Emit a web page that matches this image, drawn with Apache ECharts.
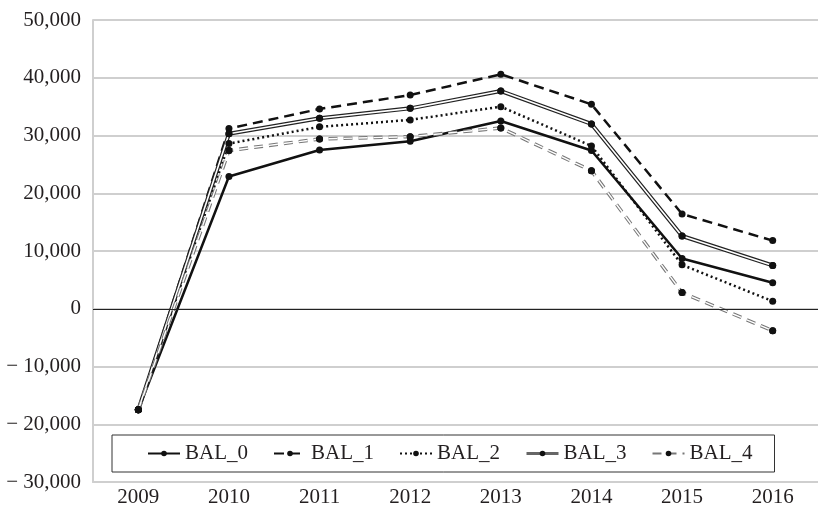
<!DOCTYPE html>
<html>
<head>
<meta charset="utf-8">
<script src="https://cdn.jsdelivr.net/npm/echarts@6/dist/echarts.min.js"></script>
<style>
  html, body { margin: 0; padding: 0; background: #fff; }
  #bal_chart { width: 818px; height: 508px; }
</style>
</head>
<body>
<div id="bal_chart"></div>
<script>
// data
const years = ["2009", "2010", "2011", "2012", "2013", "2014", "2015", "2016"];
const bal0 = [-17500, 22900, 27500, 29000, 32500, 27400, 8700, 4500];
const bal1 = [-17500, 31200, 34600, 37000, 40600, 35400, 16400, 11800];
const bal2 = [-17500, 28600, 31500, 32700, 35000, 28200, 7600, 1300];
const bal3 = [-17500, 30300, 33000, 34700, 37700, 32000, 12600, 7500];
const bal4 = [-17500, 27400, 29400, 29800, 31300, 23900, 2800, -3800];
const yTicks = { min: -30000, max: 50000, step: 10000 };

const font = "'Liberation Serif', 'Times New Roman', serif";
const textColor = "#231f20";

const chart = echarts.init(document.getElementById("bal_chart"));

function fmt(v) {
  const s = Math.abs(v).toLocaleString("en-US");
  return v < 0 ? "\u2212 " + s : s;
}

const dot = { symbol: "circle", symbolSize: 7, itemStyle: { color: "#111" } };

const option = {
  animation: false,
  backgroundColor: "#fff",
  textStyle: { fontFamily: font },
  grid: { left: 93, right: 0, top: 20, bottom: 26 },
  legend: {
    data: [
      "BAL_0", "BAL_1", "BAL_2",
      { name: "BAL_3", lineStyle: { color: "#666", width: 3 } },
      "BAL_4",
    ],
    left: 112,
    top: 435,
    itemWidth: 32,
    itemHeight: 7,
    itemGap: 25,
    padding: [8, 22, 8, 35],
    borderColor: "#333",
    borderWidth: 1,
    backgroundColor: "#fff",
    textStyle: { fontFamily: font, fontSize: 21, color: textColor },
  },
  xAxis: {
    type: "category",
    data: years,
    boundaryGap: true,
    axisLine: { show: true, onZero: false, lineStyle: { color: "#cfcfcf", width: 2 } },
    axisTick: { show: false },
    axisLabel: { margin: 5, fontFamily: font, fontSize: 21, color: textColor },
  },
  yAxis: {
    type: "value",
    min: yTicks.min,
    max: yTicks.max,
    interval: yTicks.step,
    axisLine: { show: true, lineStyle: { color: "#cfcfcf", width: 2 } },
    axisTick: { show: false },
    splitLine: { lineStyle: { color: "#cfcfcf", width: 2 } },
    axisLabel: { margin: 12, fontFamily: font, fontSize: 21, color: textColor, formatter: fmt },
  },
  series: [
    {
      name: "BAL_0", type: "line", data: bal0, ...dot,
      lineStyle: { color: "#111", width: 2.5 },
      markLine: {
        silent: true, symbol: "none", label: { show: false },
        lineStyle: { color: "#222", width: 1.2, type: "solid" },
        data: [{ yAxis: 0 }],
      },
    },
    {
      name: "BAL_1", type: "line", data: bal1, ...dot,
      lineStyle: { color: "#111", width: 2.5, type: [10, 6] },
    },
    {
      name: "BAL_2", type: "line", data: bal2, ...dot,
      lineStyle: { color: "#111", width: 2.5, type: [2, 3] },
    },
    {
      name: "BAL_3", type: "line", data: bal3, ...dot,
      lineStyle: { color: "#222", width: 4 },
    },
    {
      name: "BAL_3_inner", type: "line", data: bal3, ...dot,
      lineStyle: { color: "#fff", width: 1.6 },
    },
    {
      name: "BAL_4", type: "line", data: bal4, ...dot,
      lineStyle: { color: "#777", width: 3.5, type: [9, 6] },
    },
    {
      name: "BAL_4_inner", type: "line", data: bal4, ...dot,
      lineStyle: { color: "#fff", width: 1.4, type: [9, 6] },
    },
  ],
};

chart.setOption(option);
</script>
</body>
</html>
